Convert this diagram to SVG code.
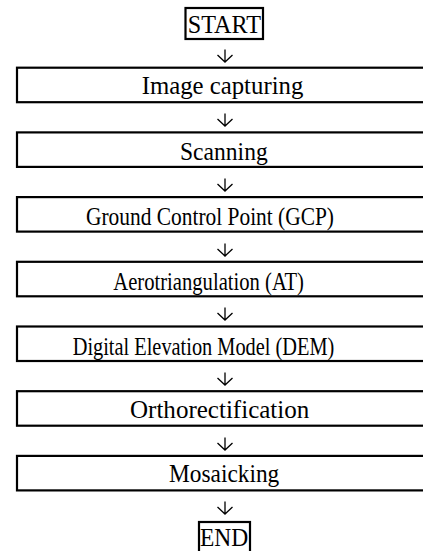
<svg xmlns="http://www.w3.org/2000/svg" width="423" height="551" viewBox="0 0 423 551">
<style>
.box{fill:#fff;stroke:#000;stroke-width:2.2}
.t{font-family:"Liberation Serif","Times New Roman",serif;font-size:25.5px;fill:#000}
.c{fill:none;stroke:#000;stroke-width:1.3}
</style>
<rect width="423" height="551" fill="#fff"/>
<g id="start"><rect class="box" x="185.5" y="8" width="77.5" height="31"/><text class="t" x="187.7" y="33" textLength="73.3" lengthAdjust="spacingAndGlyphs">START</text></g>
<g id="n1"><rect class="box" x="17" y="67.7" width="430" height="34.5"/><text class="t" x="141.7" y="94.3" textLength="161.6" lengthAdjust="spacingAndGlyphs">Image capturing</text></g>
<g id="n2"><rect class="box" x="17" y="132.4" width="430" height="34.5"/><text class="t" x="180" y="160" textLength="87.7" lengthAdjust="spacingAndGlyphs">Scanning</text></g>
<g id="n3"><rect class="box" x="17" y="197.1" width="430" height="34.5"/><text class="t" x="86" y="225" textLength="248" lengthAdjust="spacingAndGlyphs">Ground Control Point (GCP)</text></g>
<g id="n4"><rect class="box" x="17" y="261.8" width="430" height="34.5"/><text class="t" x="113.3" y="290" textLength="190.7" lengthAdjust="spacingAndGlyphs">Aerotriangulation (AT)</text></g>
<g id="n5"><rect class="box" x="17" y="326.5" width="430" height="34.5"/><text class="t" x="72.7" y="355" textLength="261.6" lengthAdjust="spacingAndGlyphs">Digital Elevation Model (DEM)</text></g>
<g id="n6"><rect class="box" x="17" y="391.2" width="430" height="34.5"/><text class="t" x="130" y="418" textLength="179.3" lengthAdjust="spacingAndGlyphs">Orthorectification</text></g>
<g id="n7"><rect class="box" x="17" y="455.9" width="430" height="34.5"/><text class="t" x="169" y="482" textLength="110.3" lengthAdjust="spacingAndGlyphs">Mosaicking</text></g>
<g id="end"><rect class="box" x="199" y="522" width="51" height="40"/><text class="t" x="200" y="546" textLength="48.3" lengthAdjust="spacingAndGlyphs">END</text></g>
<g id="connectors">
<path class="c" d="M225 49.5V62M217.5 55l7.5 7l7.5-7"/>
<path class="c" d="M225 113.5V126M217.5 119l7.5 7l7.5-7"/>
<path class="c" d="M225 178.5V191M217.5 184l7.5 7l7.5-7"/>
<path class="c" d="M225 243.5V256M217.5 249l7.5 7l7.5-7"/>
<path class="c" d="M225 307.5V320M217.5 313l7.5 7l7.5-7"/>
<path class="c" d="M225 372.5V385M217.5 378l7.5 7l7.5-7"/>
<path class="c" d="M225 437.5V450M217.5 443l7.5 7l7.5-7"/>
<path class="c" d="M225 501.5V514M217.5 507l7.5 7l7.5-7"/>
</g>
</svg>
